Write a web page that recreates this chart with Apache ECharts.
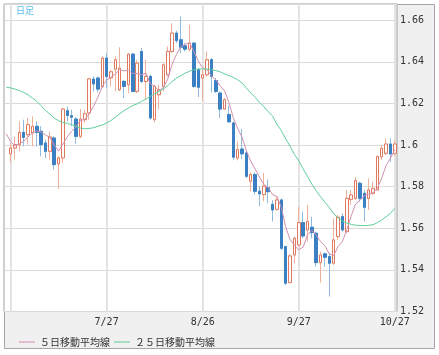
<!DOCTYPE html>
<html><head><meta charset="utf-8">
<script src="https://cdn.jsdelivr.net/npm/echarts@6/dist/echarts.min.js"></script>
<style>html,body{margin:0;padding:0;background:#fff}#c{width:439px;height:355px}</style>
</head><body><div id="c"></div>
<script>
const categories = ['6/24','6/27','6/28','6/29','6/30','7/1','7/4','7/5','7/6','7/7','7/8','7/11','7/12','7/13','7/14','7/15','7/18','7/19','7/20','7/21','7/22','7/25','7/26','7/27','7/28','7/29','8/1','8/2','8/3','8/4','8/5','8/8','8/9','8/10','8/11','8/12','8/15','8/16','8/17','8/18','8/19','8/22','8/23','8/24','8/25','8/26','8/29','8/30','8/31','9/1','9/2','9/5','9/6','9/7','9/8','9/9','9/12','9/13','9/14','9/15','9/16','9/19','9/20','9/21','9/22','9/23','9/26','9/27','9/28','9/29','9/30','10/3','10/4','10/5','10/6','10/7','10/10','10/11','10/12','10/13','10/14','10/17','10/18','10/19','10/20','10/21','10/24','10/25','10/26','10/27'];
const labelDates = ['7/27','8/26','9/27','10/27'];
const gridDates = ['6/27','7/27','8/26','9/27','10/27'];
const yTicks = [1.52,1.54,1.56,1.58,1.60,1.62,1.64,1.66];

const opens = ['-',1.5958,1.5986,1.6002,1.6061,1.6050,1.6058,1.6090,1.6066,1.6010,1.5970,1.6034,1.5910,1.5938,1.6165,1.6141,1.6125,1.6042,1.6122,1.6154,1.6317,1.6322,1.6282,1.6418,1.6323,1.6365,1.6266,1.6306,1.6290,1.6437,1.6258,1.6450,1.6306,1.6330,1.6122,1.6242,1.6282,1.6338,1.6450,1.6538,1.6506,1.6477,1.6461,1.6490,1.6362,1.6322,1.6338,1.6410,1.6310,1.6250,1.6173,1.6147,1.6106,1.5938,1.5981,1.5962,1.5826,1.5858,1.5778,1.5762,1.5795,1.5715,1.5691,1.5736,1.5512,1.5339,1.5472,1.5520,1.5627,1.5592,1.5605,1.5576,1.5435,1.5477,1.5464,1.5432,1.5560,1.5656,1.5584,1.5739,1.5744,1.5816,1.5768,1.5744,1.5768,1.5784,1.5944,1.5960,1.6005,1.5960];
const closes = ['-',1.5986,1.6002,1.6061,1.6037,1.6098,1.6090,1.6061,1.6002,1.5970,1.6038,1.5906,1.5938,1.6173,1.6142,1.6134,1.6042,1.6125,1.6150,1.6318,1.6294,1.6269,1.6418,1.6330,1.6352,1.6410,1.6370,1.6282,1.6437,1.6258,1.6394,1.6306,1.6330,1.6130,1.6282,1.6266,1.6386,1.6450,1.6538,1.6502,1.6470,1.6461,1.6490,1.6282,1.6278,1.6338,1.6410,1.6330,1.6258,1.6173,1.6218,1.6112,1.5942,1.5978,1.5958,1.5850,1.5858,1.5778,1.5765,1.5802,1.5776,1.5688,1.5736,1.5504,1.5336,1.5467,1.5552,1.5627,1.5563,1.5632,1.5579,1.5435,1.5472,1.5461,1.5432,1.5544,1.5653,1.5592,1.5744,1.5760,1.5829,1.5744,1.5701,1.5784,1.5792,1.5944,1.5984,1.6005,1.5957,1.6005];
const highs = ['-',1.6010,1.6042,1.6114,1.6122,1.6130,1.6138,1.6114,1.6090,1.6026,1.6066,1.6042,1.5946,1.6178,1.6186,1.6170,1.6134,1.6173,1.6170,1.6322,1.6330,1.6330,1.6426,1.6442,1.6362,1.6426,1.6470,1.6314,1.6442,1.6442,1.6410,1.6466,1.6410,1.6338,1.6290,1.6290,1.6394,1.6474,1.6586,1.6550,1.6618,1.6490,1.6578,1.6493,1.6370,1.6362,1.6450,1.6418,1.6322,1.6258,1.6226,1.6189,1.6114,1.6018,1.6077,1.5974,1.5869,1.5869,1.5802,1.5866,1.5835,1.5736,1.5755,1.5744,1.5515,1.5477,1.5560,1.5704,1.5680,1.5712,1.5656,1.5584,1.5488,1.5483,1.5480,1.5648,1.5664,1.5672,1.5784,1.5784,1.5845,1.5824,1.5784,1.5840,1.5824,1.5952,1.6000,1.6032,1.6032,1.6024];
const lows = ['-',1.5914,1.5930,1.5970,1.5994,1.6002,1.5994,1.5994,1.5946,1.5938,1.5930,1.5882,1.5789,1.5914,1.6114,1.6090,1.6006,1.6034,1.6106,1.6122,1.6258,1.6253,1.6274,1.6274,1.6282,1.6258,1.6258,1.6226,1.6250,1.6253,1.6250,1.6298,1.6218,1.6122,1.6109,1.6170,1.6258,1.6330,1.6442,1.6490,1.6442,1.6450,1.6450,1.6274,1.6230,1.6210,1.6330,1.6253,1.6250,1.6130,1.6170,1.6106,1.5930,1.5926,1.5933,1.5842,1.5778,1.5762,1.5706,1.5730,1.5720,1.5632,1.5685,1.5496,1.5328,1.5336,1.5432,1.5512,1.5552,1.5536,1.5552,1.5416,1.5339,1.5416,1.5272,1.5424,1.5544,1.5584,1.5576,1.5712,1.5736,1.5728,1.5632,1.5688,1.5760,1.5781,1.5928,1.5952,1.5920,1.5947];
const ma5 = [1.6054,1.6018,1.5997,1.6006,1.6018,1.6040,1.6058,1.6068,1.6062,1.6048,1.6038,1.6000,1.5971,1.6005,1.6040,1.6066,1.6088,1.6118,1.6123,1.6149,1.6186,1.6230,1.6282,1.6312,1.6326,1.6342,1.6362,1.6357,1.6358,1.6344,1.6344,1.6338,1.6346,1.6294,1.6282,1.6261,1.6277,1.6317,1.6389,1.6435,1.6472,1.6485,1.6491,1.6450,1.6403,1.6370,1.6362,1.6333,1.6314,1.6285,1.6261,1.6206,1.6131,1.6080,1.6038,1.5973,1.5923,1.5885,1.5846,1.5811,1.5796,1.5762,1.5753,1.5701,1.5608,1.5546,1.5519,1.5497,1.5509,1.5568,1.5591,1.5567,1.5536,1.5516,1.5476,1.5469,1.5512,1.5536,1.5593,1.5659,1.5716,1.5734,1.5756,1.5764,1.5770,1.5793,1.5841,1.5902,1.5936,1.5979];
const ma25 = [1.6278,1.6275,1.6269,1.6262,1.6253,1.6242,1.6226,1.6210,1.6189,1.6166,1.6149,1.6130,1.6117,1.6109,1.6104,1.6098,1.6090,1.6082,1.6078,1.6080,1.6083,1.6090,1.6096,1.6106,1.6118,1.6134,1.6150,1.6166,1.6178,1.6190,1.6198,1.6210,1.6221,1.6234,1.6246,1.6258,1.6270,1.6285,1.6306,1.6322,1.6333,1.6346,1.6355,1.6362,1.6365,1.6366,1.6365,1.6362,1.6358,1.6352,1.6342,1.6334,1.6325,1.6314,1.6299,1.6274,1.6251,1.6230,1.6205,1.6185,1.6160,1.6140,1.6100,1.6070,1.6030,1.5995,1.5955,1.5925,1.5885,1.5850,1.5812,1.5780,1.5752,1.5725,1.5700,1.5670,1.5650,1.5635,1.5625,1.5619,1.5615,1.5613,1.5613,1.5614,1.5617,1.5627,1.5640,1.5655,1.5672,1.5695];

const fullData = categories.map((_, k) => opens[k] === '-' ? ['-','-','-','-'] : [opens[k], closes[k], lows[k], highs[k]]);
const bodyData = categories.map((_, k) => opens[k] === '-' ? ['-','-','-','-'] : [opens[k], closes[k], Math.min(opens[k], closes[k]), Math.max(opens[k], closes[k])]);

const chart = echarts.init(document.getElementById('c'), null, {renderer: 'canvas'});
const mono = 'DejaVu Sans Mono';
chart.setOption({
  animation: false,
  graphic: [
    {type: 'rect', z: -10, shape: {x: 4.5, y: 4.5, width: 430, height: 344}, style: {fill: '#f0f0f0', stroke: '#a6a6a6', lineWidth: 1}},
    {type: 'text', z: 10, left: 16, top: 6, style: {text: '日足', fontSize: 9, fill: '#55bde9', fontFamily: 'Noto Sans CJK JP'}}
  ],
  grid: {left: 4, top: 4, width: 393, height: 307.5, show: true, backgroundColor: '#fff', borderColor: '#a0a0a0', borderWidth: 1},
  legend: {
    left: 14, top: 332, itemWidth: 16, itemHeight: 1, itemGap: 4, icon: 'rect', selectedMode: false,
    textStyle: {fontSize: 10, fontFamily: 'Noto Sans CJK JP', color: '#333'},
    data: ['５日移動平均線', '２５日移動平均線']
  },
  xAxis: {
    type: 'category', data: categories, boundaryGap: true,
    axisLine: {show: false}, axisTick: {show: false}, splitLine: {show: false},
    axisLabel: {interval: (i, v) => labelDates.includes(v), margin: 6, fontSize: 10, fontFamily: mono, color: '#333'}
  },
  yAxis: {
    type: 'value', position: 'right', min: 1.52, max: 1.6678, interval: 0.02, scale: true,
    axisLine: {show: false}, axisTick: {show: false},
    splitLine: {lineStyle: {color: '#d9d9d9', width: 1}},
    axisLabel: {showMaxLabel: false, margin: 3, fontSize: 10, fontFamily: mono, color: '#333',
      formatter: v => { const t = yTicks.find(y => Math.abs(y - v) < 1e-6); return t === undefined ? '' : (Math.abs(t - 1.6) < 1e-6 ? '1.6' : String(t)); }}
  },
  series: [
    {
      type: 'candlestick', name: 'wick', data: fullData, barWidth: 3, z: 2,
      itemStyle: {color: '#fff', color0: '#8fbbe0', borderColor: '#f0b09c', borderColor0: '#8fbbe0', borderWidth: 1},
      emphasis: {disabled: true}
    },
    {
      type: 'candlestick', name: 'body', data: bodyData, barWidth: 3, z: 3,
      itemStyle: {color: '#fff', color0: '#3b80c2', borderColor: '#e07a5e', borderColor0: '#3b80c2', borderWidth: 1},
      emphasis: {disabled: true}
    },
    {
      type: 'line', name: '５日移動平均線', data: ma5, showSymbol: false, symbol: 'none', z: 4,
      color: '#d38fb2', itemStyle: {color: '#d38fb2'}, lineStyle: {color: '#d38fb2', width: 1}
    },
    {
      type: 'line', name: '２５日移動平均線', data: ma25, showSymbol: false, symbol: 'none', z: 4,
      color: '#5fcf99', itemStyle: {color: '#5fcf99'}, lineStyle: {color: '#5fcf99', width: 1},
      markLine: {silent: true, z: 1, symbol: ['none', 'none'], label: {show: false}, emphasis: {disabled: true},
        lineStyle: {color: '#e3e3e3', width: 2, type: 'solid'},
        data: gridDates.map(d => ({xAxis: d}))}
    }
  ]
});
</script>
</body></html>
